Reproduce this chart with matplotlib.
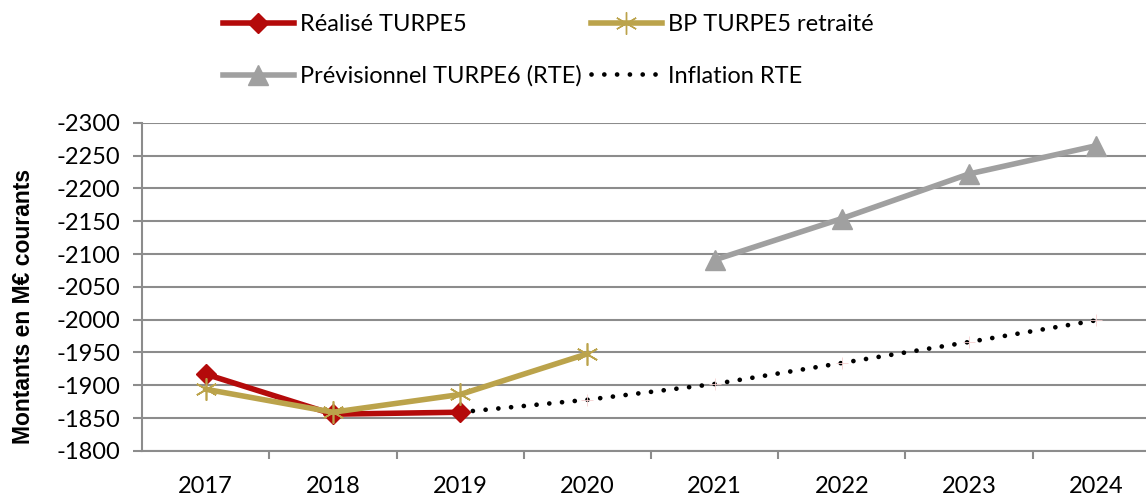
import numpy as np
import matplotlib.pyplot as plt
from matplotlib.lines import Line2D

years = ["2017", "2018", "2019", "2020", "2021", "2022", "2023", "2024"]

realise_years = ["2017", "2018", "2019"]
realise_vals = [-1917, -1856, -1859]

bp_years = ["2017", "2018", "2019", "2020"]
bp_vals = [-1894, -1859, -1886, -1948]

prev_years = ["2021", "2022", "2023", "2024"]
prev_vals = [-2091, -2154, -2222, -2265]

infl_years = ["2019", "2020", "2021", "2022", "2023", "2024"]
infl_vals = [-1859, -1878, -1902, -1934, -1966, -1999]

yticks = np.arange(-2300, -1799, 50)

plt.rcParams['font.family'] = ['Lato', 'DejaVu Sans']

fig = plt.figure(figsize=(11.46, 4.95), dpi=100)
ax = fig.add_axes([0.124, 0.089, 0.888, 0.663])

pos = {y: i for i, y in enumerate(years)}

dot_style = (0, (0.01, 2.7))
ax.plot([pos[y] for y in infl_years], infl_vals, color='black', linewidth=3.4,
        linestyle=dot_style, dash_capstyle='round', zorder=3,
        marker='+', markersize=9, markeredgecolor='#f5d0d0', markeredgewidth=0.6,
        markevery=list(range(1, len(infl_years))))
ax.plot([pos[y] for y in prev_years], prev_vals, color='#a0a0a0', linewidth=4,
        marker='^', markersize=14, zorder=4)
ax.plot([pos[y] for y in realise_years], realise_vals, color='#b40a0a', linewidth=4,
        marker='D', markersize=10, zorder=5)
ax.plot([pos[y] for y in bp_years], bp_vals, color='#bba34b', linewidth=4,
        marker=(6, 2, 0), markersize=16, markeredgewidth=1.2, markeredgecolor='#bba34b', zorder=6)

ax.set_xlim(-0.5, len(years) - 0.5)
ax.set_ylim(-1800, -2300)
ax.set_yticks(yticks)
ax.set_yticklabels([str(v) for v in yticks], fontsize=17)
ax.set_xticks(range(len(years)))
ax.set_xticklabels(years, fontsize=17)
ax.tick_params(axis='x', length=0, pad=18)
ax.set_xticks(np.arange(0.5, len(years) - 0.5), minor=True)
ax.tick_params(axis='x', which='minor', length=6, color='#8c8c8c', width=1.5)
ax.tick_params(axis='y', length=6.5, color='#8c8c8c', width=1.5, pad=9)

ax.grid(axis='y', color='#8c8c8c', linewidth=1.5)
ax.set_axisbelow(True)
for s in ['top', 'right']:
    ax.spines[s].set_visible(False)
for s in ['left', 'bottom']:
    ax.spines[s].set_color('#8c8c8c')
    ax.spines[s].set_linewidth(1.5)

ax.set_ylabel('Montants en M€ courants', fontsize=16.5, fontweight='bold',
              fontfamily='Liberation Sans')
ax.yaxis.set_label_coords(-0.105, 0.44)

handles = [
    Line2D([], [], color='#b40a0a', linewidth=4, marker='D', markersize=10),
    Line2D([], [], color='#a0a0a0', linewidth=4, marker='^', markersize=14),
    Line2D([], [], color='#bba34b', linewidth=4, marker=(6, 2, 0), markersize=16),
    Line2D([], [], color='black', linewidth=3.4, linestyle=dot_style, dash_capstyle='round'),
]
labels = ['Réalisé TURPE5', 'Prévisionnel TURPE6 (RTE)', 'BP TURPE5 retraité', 'Inflation RTE']
fig.legend(handles, labels, ncol=2, loc='upper left', bbox_to_anchor=(223 / 1146, 0.972),
           frameon=False, fontsize=17, handlelength=3.0, handletextpad=0.25,
           columnspacing=0.4, labelspacing=1.3, borderpad=0, borderaxespad=0)

fig.savefig('out.png', dpi=100)
